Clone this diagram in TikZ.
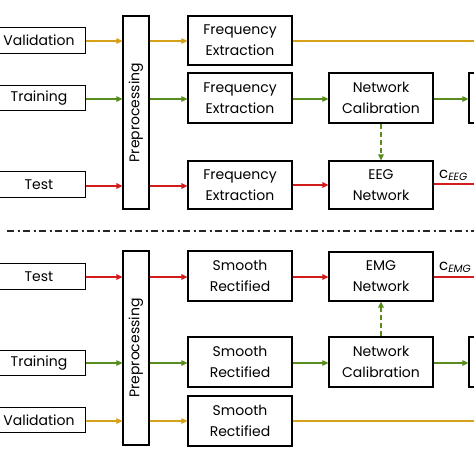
\documentclass[tikz,border=0pt]{standalone}
\usepackage{fontspec}
\setmainfont{Poppins}
\usetikzlibrary{arrows.meta}
\definecolor{cyel}{RGB}{214,160,24}
\definecolor{cgrn}{RGB}{88,140,28}
\definecolor{cred}{RGB}{210,28,28}
\tikzset{
  box/.style={draw=black, line width=1.2pt, fill=white, inner sep=0pt, align=center,
    font=\fontsize{14}{21}\selectfont, text=black},
  inbox/.style={box, minimum width=93pt, minimum height=25.5pt},
  prebox/.style={box, minimum width=26pt},
  procbox/.style={box, minimum width=104pt, minimum height=49pt},
  flow/.style={line width=1.1pt, -{Triangle[length=6pt,width=5.5pt]}},
  yflow/.style={flow, draw=cyel},
  gflow/.style={flow, draw=cgrn},
  rflow/.style={flow, draw=cred, line width=1.4pt},
  gdash/.style={flow, draw=cgrn, line width=1.6pt, dash pattern=on 5pt off 3pt},
  sep/.style={line width=1.8pt, draw=black!85, dash pattern=on 7pt off 3.5pt on 2pt off 3.5pt},
  clab/.style={font=\fontsize{15}{16}\selectfont, text=black, inner sep=0pt, anchor=base west}
}
\begin{document}
\begin{tikzpicture}[x=1pt,y=-1pt]
\useasboundingbox (0,0) rectangle (474,474);
\clip (0,0) rectangle (474,474);
% ---------- top half (EEG) ----------
\node[inbox] (val1) at (39,40.5) {Validation};
\node[inbox] (tr1) at (39,98) {Training};
\node[inbox] (te1) at (39,184.5) {Test};
\node[prebox, minimum height=193pt] (pre1) at (136,112.5) {\rotatebox{90}{Preprocessing}};
\node[procbox] (fe1) at (240,40.5) {Frequency\\Extraction};
\node[procbox, minimum height=50pt] (fe2) at (240,98) {Frequency\\Extraction};
\node[procbox, minimum height=48pt] (fe3) at (240,185) {Frequency\\Extraction};
\node[procbox, minimum height=50pt] (nc1) at (381,98) {Network\\Calibration};
\node[procbox, minimum height=48pt] (eeg) at (381,185) {EEG\\Network};
\node[procbox, minimum height=50pt] (r1) at (521,98) {};
\coordinate (ye1) at (480,41);
\coordinate (re1) at (480,184);
\draw[yflow] (val1.east |- 0,41) -- (pre1.west |- 0,41);
\draw[yflow] (pre1.east |- 0,41) -- (fe1.west |- 0,41);
\draw[line width=1.1pt, draw=cyel] (fe1.east |- 0,41) -- (ye1);
\draw[gflow] (tr1.east |- 0,99) -- (pre1.west |- 0,99);
\draw[gflow] (pre1.east |- 0,99) -- (fe2.west |- 0,99);
\draw[gflow] (fe2.east |- 0,99) -- (nc1.west |- 0,99);
\draw[gflow] (nc1.east |- 0,99) -- (r1.west |- 0,99);
\draw[rflow] (te1.east |- 0,186) -- (pre1.west |- 0,186);
\draw[rflow] (pre1.east |- 0,186) -- (fe3.west |- 0,186);
\draw[rflow] (fe3.east |- 0,185) -- (eeg.west |- 0,185);
\draw[line width=1.4pt, draw=cred] (eeg.east |- 0,184) -- (re1);
\draw[gdash] (nc1.south) -- (eeg.north);
\node[clab] (ceeg) at (439,178) {c\textsubscript{\itshape EEG}};
% ---------- separator ----------
\coordinate (s1) at (7,231);
\coordinate (s2) at (480,231);
\draw[sep] (s1) -- (s2);
% ---------- bottom half (EMG) ----------
\node[inbox] (te2) at (39,276.5) {Test};
\node[inbox] (tr2) at (39,363) {Training};
\node[inbox] (val2) at (39,420) {Validation};
\node[prebox, minimum height=194pt] (pre2) at (136,348) {\rotatebox{90}{Preprocessing}};
\node[procbox, minimum height=50pt] (sr1) at (240,276) {Smooth\\Rectified};
\node[procbox, minimum height=50pt] (sr2) at (240,362) {Smooth\\Rectified};
\node[procbox, minimum height=50pt] (sr3) at (240,421) {Smooth\\Rectified};
\node[procbox] (emg) at (381,276.5) {EMG\\Network};
\node[procbox, minimum height=50pt] (nc2) at (381,362) {Network\\Calibration};
\node[procbox, minimum height=50pt] (r2) at (521,362) {};
\coordinate (ye2) at (480,421);
\coordinate (re2) at (480,277);
\draw[rflow] (te2.east |- 0,277) -- (pre2.west |- 0,277);
\draw[rflow] (pre2.east |- 0,277) -- (sr1.west |- 0,277);
\draw[rflow] (sr1.east |- 0,277) -- (emg.west |- 0,277);
\draw[line width=1.4pt, draw=cred] (emg.east |- 0,277) -- (re2);
\draw[gflow] (tr2.east |- 0,363) -- (pre2.west |- 0,363);
\draw[gflow] (pre2.east |- 0,363) -- (sr2.west |- 0,363);
\draw[gflow] (sr2.east |- 0,363) -- (nc2.west |- 0,363);
\draw[gflow] (nc2.east |- 0,363) -- (r2.west |- 0,363);
\draw[yflow] (val2.east |- 0,421) -- (pre2.west |- 0,421);
\draw[yflow] (pre2.east |- 0,421) -- (sr3.west |- 0,421);
\draw[line width=1.1pt, draw=cyel] (sr3.east |- 0,421) -- (ye2);
\draw[gdash] (nc2.north) -- (emg.south);
\node[clab] (cemg) at (439,270) {c\textsubscript{\itshape EMG}};
\end{tikzpicture}
\end{document}
